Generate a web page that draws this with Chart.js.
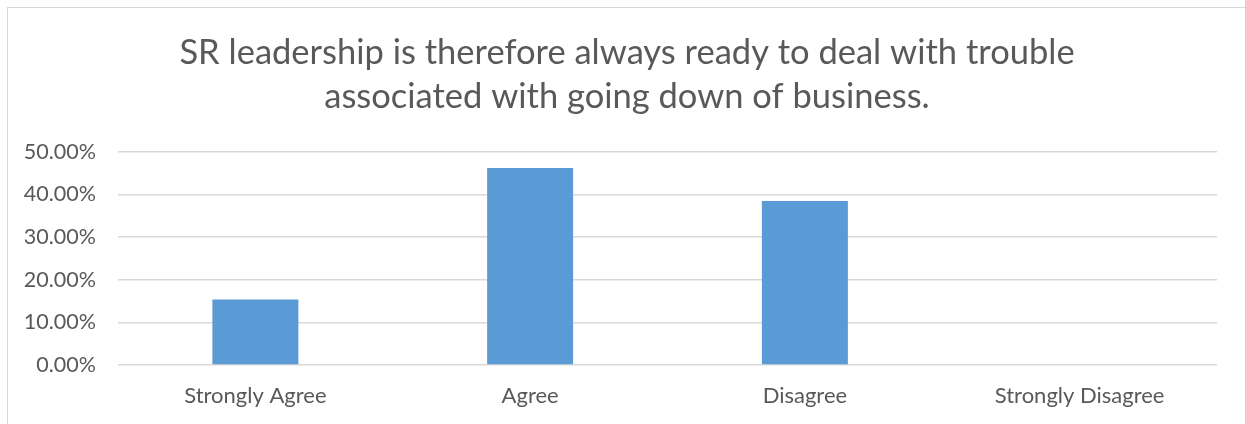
<!DOCTYPE html>
<html>
<head>
<meta charset="utf-8">
<script src="https://cdn.jsdelivr.net/npm/chart.js@4"></script>
<style>
  html, body { margin: 0; padding: 0; background: #fff; overflow: hidden; }
  #frame { position: absolute; left: 7px; top: 7px; width: 1260px; height: 440px; border: 1px solid #d9d9d9; }
  #wrap { position: absolute; left: 0; top: 0; width: 1254px; height: 424px; }
</style>
</head>
<body>
<div id="frame"></div>
<div id="wrap"><canvas id="barChart"></canvas></div>
<script>
  const categories = ["Strongly Agree", "Agree", "Disagree", "Strongly Disagree"];
  const shares = [15.38, 46.15, 38.46, 0];
  const yTicks = [0, 10, 20, 30, 40, 50];
  const titleLines = ["SR leadership is therefore always ready to deal with trouble", "associated with going down of business."];

  const fontFamily = "Lato, 'Open Sans', sans-serif";
  const textColor = "#595959";

  var ctx = document.getElementById("barChart").getContext('2d');
  var chart = new Chart(ctx, {
    type: 'bar',
    data: {
      labels: categories,
      datasets: [{
        data: shares,
        backgroundColor: "#5b9bd5",
        categoryPercentage: 1,
        barPercentage: 0.313
      }]
    },
    options: {
      responsive: true,
      maintainAspectRatio: false,
      animation: false,
      layout: { padding: { left: 0, right: 0, top: 7, bottom: 0 } },
      plugins: {
        legend: { display: false },
        tooltip: { enabled: false },
        title: {
          display: true,
          text: titleLines,
          color: textColor,
          font: { family: fontFamily, size: 34.5, weight: 'normal', lineHeight: 1.3 },
          padding: { top: 23, bottom: 32 }
        }
      },
      scales: {
        x: {
          grid: { display: false, drawTicks: false },
          border: { display: false },
          afterFit: function (axis) { axis.height = 59; },
          ticks: { color: textColor, font: { family: fontFamily, size: 22, lineHeight: 1.2 }, padding: 18, maxRotation: 0 }
        },
        y: {
          min: 0,
          max: 50,
          afterBuildTicks: function (axis) {
            axis.ticks = yTicks.map(v => ({ value: v }));
          },
          afterFit: function (axis) { axis.width = 118; },
          grid: { color: "#d9d9d9", lineWidth: 1.5, drawTicks: false },
          border: { display: false },
          ticks: {
            color: textColor,
            font: { family: fontFamily, size: 21.5 },
            padding: 22,
            callback: v => v.toFixed(2) + "%"
          }
        },
        // empty strip on the right so the title sits centred on the whole frame
        spacer: {
          type: 'linear',
          position: 'right',
          afterFit: function (axis) { axis.width = 37; },
          grid: { display: false, drawTicks: false },
          border: { display: false },
          ticks: { display: false }
        }
      }
    }
  });
</script>
</body>
</html>
